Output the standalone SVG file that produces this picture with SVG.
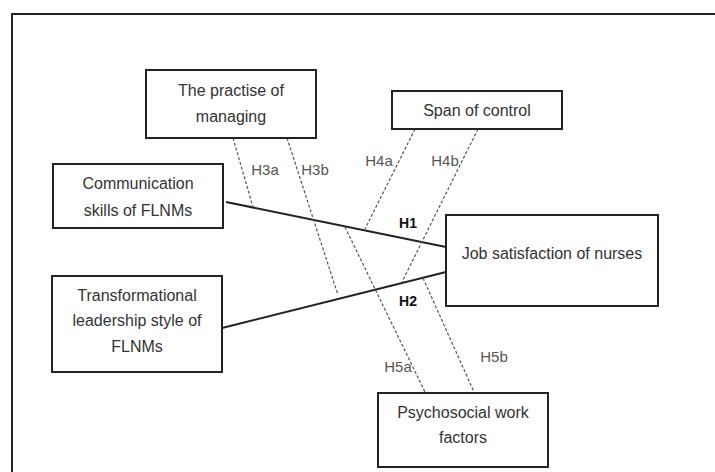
<svg xmlns="http://www.w3.org/2000/svg" width="715" height="472" viewBox="0 0 715 472">
<style>
.box{fill:#fff;stroke:#222;stroke-width:2}
.t{font-family:"Liberation Sans",Arial,sans-serif;font-size:16px;fill:#333;text-anchor:middle}
.lbl{font-family:"Liberation Sans",Arial,sans-serif;font-size:15px;fill:#555;text-anchor:middle}
.hb{font-family:"Liberation Sans",Arial,sans-serif;font-size:14px;font-weight:bold;fill:#111;text-anchor:middle}
.solid{stroke:#222;stroke-width:2;fill:none}
.dash{stroke:#555;stroke-width:1.2;stroke-dasharray:3,2;fill:none}
</style>
<rect width="715" height="472" fill="#fff"/>
<path d="M12,472 V14 H715" fill="none" stroke="#222" stroke-width="2"/>
<g id="connectors">
<line class="solid" x1="226" y1="202" x2="446" y2="247"/>
<line class="solid" x1="222" y1="328" x2="446" y2="272"/>
<line class="dash" x1="233" y1="138" x2="253" y2="207"/>
<line class="dash" x1="287" y1="138" x2="338" y2="295"/>
<line class="dash" x1="415" y1="129" x2="365" y2="229"/>
<line class="dash" x1="478" y1="129" x2="402" y2="282"/>
<line class="dash" x1="345" y1="227" x2="425" y2="392"/>
<line class="dash" x1="423" y1="278" x2="474" y2="392"/>
<text class="lbl" x="265" y="175">H3a</text>
<text class="lbl" x="315" y="175">H3b</text>
<text class="lbl" x="379" y="166">H4a</text>
<text class="lbl" x="445" y="166">H4b</text>
<text class="lbl" x="398" y="372">H5a</text>
<text class="lbl" x="494" y="362">H5b</text>
<text class="hb" x="408" y="228">H1</text>
<text class="hb" x="408" y="306">H2</text>
</g>
<g id="practise">
<rect class="box" x="146" y="70" width="170" height="68"/>
<text class="t" x="231" y="96">The practise of</text>
<text class="t" x="231" y="122">managing</text>
</g>
<g id="span">
<rect class="box" x="392" y="91" width="170" height="38"/>
<text class="t" x="477" y="116">Span of control</text>
</g>
<g id="communication">
<rect class="box" x="53" y="164" width="170" height="64"/>
<text class="t" x="138" y="189">Communication</text>
<text class="t" x="138" y="216">skills of FLNMs</text>
</g>
<g id="job">
<rect class="box" x="446" y="215" width="212" height="91"/>
<text class="t" x="552" y="259">Job satisfaction of nurses</text>
</g>
<g id="transformational">
<rect class="box" x="52" y="276" width="170" height="96"/>
<text class="t" x="137" y="301">Transformational</text>
<text class="t" x="137" y="326">leadership style of</text>
<text class="t" x="137" y="352">FLNMs</text>
</g>
<g id="psychosocial">
<rect class="box" x="378" y="393" width="170" height="74"/>
<text class="t" x="463" y="418">Psychosocial work</text>
<text class="t" x="463" y="443">factors</text>
</g>
</svg>
